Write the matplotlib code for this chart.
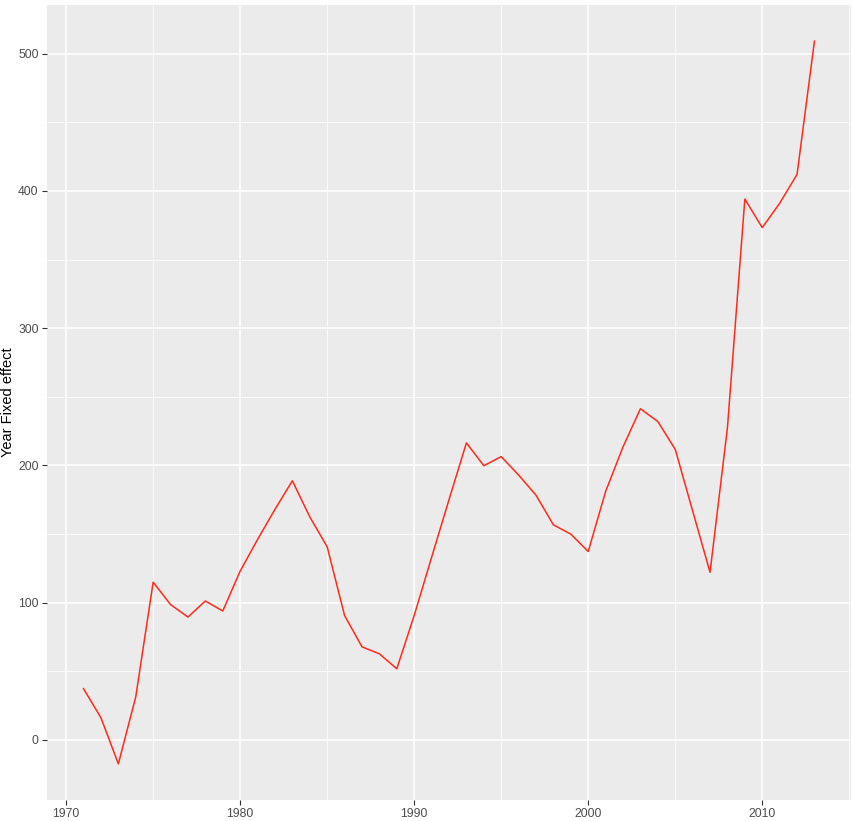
import numpy as np
import matplotlib
matplotlib.use("Agg")
from matplotlib import pyplot as plt
from matplotlib.ticker import MultipleLocator

plt.rcParams['font.family'] = ['Liberation Sans', 'DejaVu Sans']

years = list(range(1971, 2014))
effect = [37.3, 16.1, -17.5, 31.3, 114.9, 98.6, 89.5, 101.2, 93.9, 123.0,
          146.0, 168.0, 188.8, 162.5, 140.7, 90.6, 67.8, 62.7, 51.8, 90.6,
          133.0, 175.0, 216.4, 199.8, 206.4, 193.0, 178.3, 156.7, 149.9, 137.3,
          181.0, 213.5, 241.3, 232.0, 211.7, 166.9, 122.1, 227.5, 394.1, 373.3,
          391.0, 412.1, 509.2]
ylabel = "Year Fixed effect"

fig = plt.figure(figsize=(8.53, 8.21), dpi=100)
ax = fig.add_axes([47/853, 1 - 800/821, 804/853, 795/821])
ax.set_facecolor('#EBEBEB')

ax.plot(years, effect, color='#FF2A1A', lw=1.1, zorder=3)

# ggplot-style 5% expansion
x = np.array(years)
y = np.array(effect)
dx = (x.max() - x.min()) * 0.05
dy = (y.max() - y.min()) * 0.05
ax.set_xlim(x.min() - dx, x.max() + dx)
ax.set_ylim(y.min() - dy, y.max() + dy)

ax.xaxis.set_major_locator(MultipleLocator(10))
ax.xaxis.set_minor_locator(MultipleLocator(5))
ax.yaxis.set_major_locator(MultipleLocator(100))
ax.yaxis.set_minor_locator(MultipleLocator(50))

ax.grid(which='major', color='white', lw=1.1)
ax.grid(which='minor', color='white', lw=0.55)
ax.set_axisbelow(True)

for s in ax.spines.values():
    s.set_visible(False)

ax.tick_params(which='major', length=3.5, width=0.8, color='#333333',
               labelcolor='#4D4D4D', labelsize=8.7, pad=2.5)
ax.tick_params(which='minor', length=0)

ax.set_ylabel(ylabel, fontsize=10.5, color='black', labelpad=2)

fig.savefig('out.png', dpi=100, facecolor='white')
